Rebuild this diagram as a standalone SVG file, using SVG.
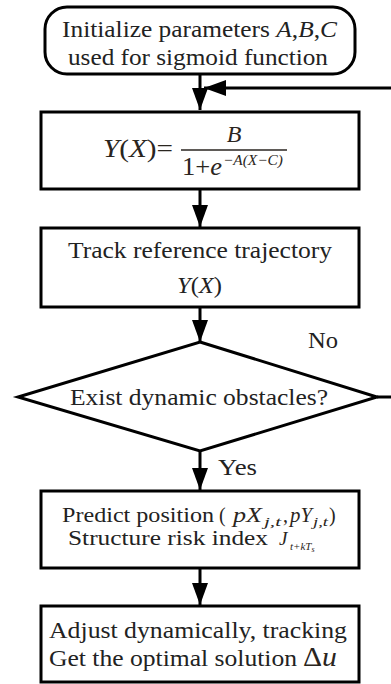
<svg xmlns="http://www.w3.org/2000/svg" width="391" height="684" viewBox="0 0 391 684">
<defs>
<style>
.box{fill:#fff;stroke:#000;stroke-width:3}
.ln{fill:none;stroke:#000;stroke-width:3}
.t{font-family:"Liberation Serif","Times New Roman",serif;font-size:24px;fill:#222}
.s{font-size:22px}
.i{font-style:italic}
.m{font-family:"Liberation Serif","Times New Roman",serif;fill:#2a2520}
</style>
<marker id="ah" markerUnits="userSpaceOnUse" markerWidth="24" markerHeight="16" refX="22" refY="8" orient="auto">
<path d="M0,0 L22,8 L0,16 z" fill="#000"/>
</marker>
</defs>
<rect width="391" height="684" fill="#fff"/>
<g id="connectors">
<line class="ln" x1="200" y1="74" x2="200" y2="110" marker-end="url(#ah)"/>
<line class="ln" x1="391" y1="88" x2="204" y2="88" marker-end="url(#ah)"/>
<line class="ln" x1="200" y1="189" x2="200" y2="227" marker-end="url(#ah)"/>
<line class="ln" x1="200" y1="307" x2="200" y2="342" marker-end="url(#ah)"/>
<line class="ln" x1="377" y1="397" x2="391" y2="397"/>
<line class="ln" x1="200" y1="451" x2="200" y2="490" marker-end="url(#ah)"/>
<line class="ln" x1="200" y1="568" x2="200" y2="605" marker-end="url(#ah)"/>
<text class="t" x="308" y="348" textLength="30" lengthAdjust="spacingAndGlyphs">No</text>
<text class="t" x="218" y="475" textLength="39" lengthAdjust="spacingAndGlyphs">Yes</text>
</g>
<g id="start">
<rect class="box" x="45" y="7" width="310" height="67" rx="22" ry="22"/>
<text class="t" x="62" y="37" textLength="275" lengthAdjust="spacingAndGlyphs">Initialize parameters <tspan class="i">A</tspan>,<tspan class="i">B</tspan>,<tspan class="i">C</tspan></text>
<text class="t" x="68" y="65" textLength="260" lengthAdjust="spacingAndGlyphs">used for sigmoid function</text>
</g>
<g id="sigmoid">
<rect class="box" x="41" y="112" width="318" height="77"/>
<text class="m" x="103" y="157" font-size="25" textLength="70" lengthAdjust="spacingAndGlyphs"><tspan font-style="italic">Y</tspan>(<tspan font-style="italic">X</tspan>)=</text>
<line x1="181" y1="150" x2="287" y2="150" stroke="#2a2520" stroke-width="1.5"/>
<text class="m" x="234" y="142" font-size="24" font-style="italic" text-anchor="middle">B</text>
<text class="m" x="182" y="175" font-size="25" textLength="40" lengthAdjust="spacingAndGlyphs">1+<tspan font-style="italic">e</tspan></text>
<text class="m" x="223" y="165" font-size="15" font-style="italic" textLength="60" lengthAdjust="spacingAndGlyphs">−A(X−C)</text>
</g>
<g id="track">
<rect class="box" x="41" y="228" width="318" height="79"/>
<text class="t" x="68" y="258" textLength="264" lengthAdjust="spacingAndGlyphs">Track reference trajectory</text>
<text class="t" x="177" y="293" textLength="45" lengthAdjust="spacingAndGlyphs"><tspan class="i">Y</tspan>(<tspan class="i">X</tspan>)</text>
</g>
<g id="decision">
<polygon class="box" points="200,342 377,397 200,451 18,397"/>
<text class="t" x="70" y="405" textLength="258" lengthAdjust="spacingAndGlyphs">Exist dynamic obstacles?</text>
</g>
<g id="predict">
<rect class="box" x="41" y="491" width="318" height="77"/>
<text class="t s" x="62" y="522" textLength="152" lengthAdjust="spacingAndGlyphs">Predict position</text>
<text class="m" font-size="20" x="219" y="522">(</text>
<text class="m" font-size="20" font-style="italic" x="233" y="522" textLength="29" lengthAdjust="spacingAndGlyphs">pX</text>
<text class="m" font-size="12" font-style="italic" x="264" y="526" textLength="17" lengthAdjust="spacingAndGlyphs">j,t</text>
<text class="m" font-size="20" x="283" y="522">,</text>
<text class="m" font-size="20" font-style="italic" x="290" y="522" textLength="22" lengthAdjust="spacingAndGlyphs">pY</text>
<text class="m" font-size="12" font-style="italic" x="313" y="526" textLength="15" lengthAdjust="spacingAndGlyphs">j,t</text>
<text class="m" font-size="20" x="329" y="522">)</text>
<text class="t s" x="68" y="545" textLength="200" lengthAdjust="spacingAndGlyphs">Structure risk index</text>
<text class="m" font-size="19" font-style="italic" x="279" y="545">J</text>
<text class="m" font-size="11" font-style="italic" x="290" y="550">t+kT<tspan font-size="8" dy="2">s</tspan></text>
</g>
<g id="adjust">
<rect class="box" x="41" y="606" width="318" height="76"/>
<text class="t" x="49" y="638" textLength="298" lengthAdjust="spacingAndGlyphs">Adjust dynamically, tracking</text>
<text class="t" x="49" y="666" textLength="248" lengthAdjust="spacingAndGlyphs">Get the optimal solution</text>
<text class="m" font-size="27" x="303" y="666" fill="#1a1a55" textLength="34" lengthAdjust="spacingAndGlyphs">Δ<tspan font-style="italic">u</tspan></text>
</g>
</svg>
